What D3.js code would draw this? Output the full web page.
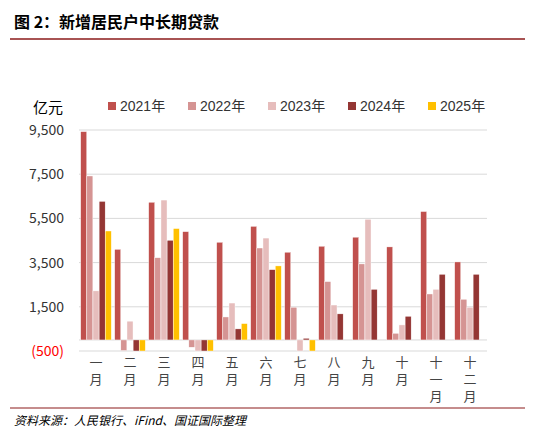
<!DOCTYPE html><html><head><meta charset="utf-8"><script src="https://cdn.jsdelivr.net/npm/d3@7"></script>
<style>body{margin:0;background:#fff;font-family:"Noto Sans CJK SC","Liberation Sans",sans-serif}</style></head><body>
<script>
const months=["一月","二月","三月","四月","五月","六月","七月","八月","九月","十月","十一月","十二月"];
const years=["2021年","2022年","2023年","2024年","2025年"];
const colors=["#C0504D","#D59493","#E6BDBC","#943634","#FFC000"];
const s2021=[9425,4100,6230,4900,4420,5140,3970,4240,4650,4210,5810,3530];
const s2022=[7420,-480,3720,-330,1040,4160,1480,2640,3440,300,2080,1840];
const s2023=[2220,850,6330,-500,1670,4610,-500,1580,5460,680,2290,1480];
const s2024=[6270,-500,4510,-500,500,3180,75,1180,2290,1070,2970,2970];
const s2025=[4930,-500,5040,-500,740,3350,-500,null,null,null,null,null];
const series=[s2021,s2022,s2023,s2024,s2025];
const ticks=[-500,1500,3500,5500,7500,9500];
const W=533,H=436;
const svg=d3.select("body").append("svg").attr("width",W).attr("height",H);
svg.append("text").attr("x",14).attr("y",28).attr("font-size",16).attr("font-weight","bold").attr("fill","#000").text("图 2：新增居民户中长期贷款");
svg.append("line").attr("x1",10).attr("x2",525).attr("y1",39).attr("y2",39).attr("stroke","#8B1A1A").attr("stroke-width",1.5);
svg.append("line").attr("x1",10).attr("x2",525).attr("y1",408).attr("y2",408).attr("stroke","#8B1A1A").attr("stroke-width",1);
svg.append("text").attr("x",14).attr("y",425).attr("font-size",12).attr("font-style","italic").attr("fill","#000").text("资料来源：人民银行、iFind、国证国际整理");
const x=d3.scaleBand().domain(months).range([79,487]).paddingInner(0.1).paddingOuter(0.05);
const xi=d3.scaleBand().domain(d3.range(5)).range([0,x.bandwidth()]).paddingInner(0.02);
const y=d3.scaleLinear().domain([-500,9500]).range([351,130]);
const g=svg.append("g");
g.selectAll("line.grid").data(ticks).join("line").attr("x1",79).attr("x2",487).attr("y1",d=>y(d)).attr("y2",d=>y(d)).attr("stroke","#d9d9d9").attr("stroke-width",1);
g.append("line").attr("x1",79).attr("x2",487).attr("y1",y(0)).attr("y2",y(0)).attr("stroke","#d9d9d9");
g.selectAll("text.tk").data(ticks).join("text").attr("x",64).attr("y",d=>y(d)+5).attr("text-anchor","end").attr("font-size",14)
 .attr("fill",d=>d<0?"#FF0000":"#333").text(d=>d<0?"(500)":d3.format(",")(d));
series.forEach((s,i)=>{
 g.selectAll(null).data(s.map((v,j)=>({v,m:months[j]})).filter(d=>d.v!=null)).join("rect")
  .attr("x",d=>x(d.m)+xi(i)).attr("width",xi.bandwidth())
  .attr("y",d=>y(Math.max(0,d.v))).attr("height",d=>Math.abs(y(d.v)-y(0)))
  .attr("fill",colors[i]).attr("stroke","#fff").attr("stroke-width",0.4);
});
months.forEach(m=>{
 const cx=x(m)+x.bandwidth()/2;
 [...m].forEach((c,k)=>svg.append("text").attr("x",cx).attr("y",367+k*17).attr("font-size",13).attr("fill","#444").attr("text-anchor","middle").text(c));
});
svg.append("text").attr("x",33).attr("y",113).attr("font-size",15).attr("fill","#000").text("亿元");
const lg=svg.append("g");
years.forEach((yr,i)=>{
 const lx=108+i*80;
 lg.append("rect").attr("x",lx).attr("y",102).attr("width",8).attr("height",8).attr("fill",colors[i]);
 lg.append("text").attr("x",lx+12).attr("y",111).attr("font-size",14).attr("fill","#333").attr("font-family","Liberation Sans, Noto Sans CJK SC").text(yr);
});
</script></body></html>
